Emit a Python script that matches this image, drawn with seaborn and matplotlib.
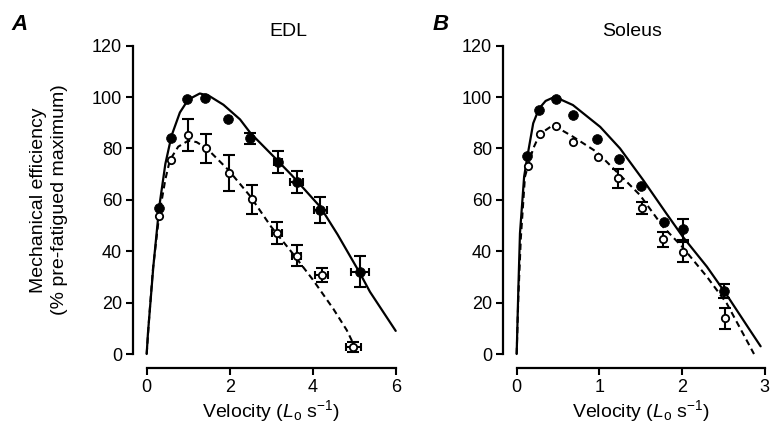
import numpy as np
import matplotlib
matplotlib.use('Agg')
import matplotlib.pyplot as plt
import seaborn as sns

# ---------------- data ----------------
# Panel A: EDL
A_fill_x = [0.30, 0.58, 0.98, 1.40, 1.97, 2.49, 3.16, 3.61, 4.18, 5.14]
A_fill_y = [56.7, 83.9, 99.1, 99.5, 91.3, 83.9, 74.8, 67.0, 56.0, 32.0]
A_fill_yerr = [0, 0, 0, 0, 0, 2.2, 4.3, 4.3, 5.1, 6.0]
A_fill_xerr = [0, 0, 0, 0, 0, 0, 0.10, 0.15, 0.16, 0.22]

A_open_x = [0.30, 0.59, 0.99, 1.42, 1.99, 2.53, 3.13, 3.61, 4.22, 4.98]
A_open_y = [53.7, 75.5, 85.2, 80.0, 70.5, 60.2, 47.2, 38.3, 30.7, 2.8]
A_open_yerr = [0, 0, 6.2, 5.6, 7.1, 5.6, 4.3, 4.1, 2.8, 2.0]
A_open_xerr = [0, 0, 0, 0, 0, 0, 0.12, 0.12, 0.16, 0.18]

A_solid_x = [0.0, 0.03, 0.08, 0.16, 0.30, 0.45, 0.60, 0.80, 1.00, 1.28, 1.50,
             1.85, 2.25, 2.50, 3.05, 3.50, 4.18, 4.60, 5.14, 5.38, 6.00]
A_solid_y = [0, 8, 18, 34, 57, 74, 85, 94, 99, 101.4, 100.5,
             97, 91.3, 86, 77, 69.5, 57.3, 46.5, 31.4, 24.2, 9]
A_dash_x = [0.0, 0.05, 0.15, 0.30, 0.45, 0.56, 0.76, 1.00, 1.20, 1.45, 1.97,
            2.49, 3.00, 3.50, 4.00, 4.50, 4.82, 5.10]
A_dash_y = [0, 12, 33, 54, 68, 75.5, 80.7, 83, 82.5, 80, 71.6,
            61.5, 49.5, 39.5, 29, 17.5, 9.3, 0]

# Panel B: Soleus
B_fill_x = [0.13, 0.27, 0.48, 0.68, 0.97, 1.24, 1.50, 1.78, 2.01, 2.51]
B_fill_y = [77.0, 94.9, 99.2, 93.0, 83.5, 75.8, 65.5, 51.5, 48.5, 24.5]
B_fill_yerr = [0, 0, 0, 0, 0, 0, 0, 0, 4.1, 2.8]
B_fill_xerr = [0, 0, 0, 0, 0, 0, 0, 0, 0, 0]

B_open_x = [0.14, 0.28, 0.48, 0.68, 0.98, 1.23, 1.51, 1.77, 2.01, 2.52]
B_open_y = [73.2, 85.6, 88.8, 82.4, 76.8, 68.4, 56.7, 44.6, 39.8, 13.9]
B_open_yerr = [0, 0, 0, 0, 0, 3.7, 2.3, 3.0, 3.9, 4.2]
B_open_xerr = [0, 0, 0, 0, 0, 0, 0, 0, 0, 0]

B_solid_x = [0.0, 0.02, 0.04, 0.09, 0.13, 0.20, 0.27, 0.35, 0.46, 0.68, 1.01,
             1.25, 1.53, 1.81, 2.01, 2.30, 2.54, 2.82, 2.95]
B_solid_y = [0, 25, 47, 69, 77, 89.8, 95.5, 98.5, 100.1, 96.9, 88.4,
             80, 67.7, 54.7, 45.6, 34, 23, 9.3, 3]
B_dash_x = [0.0, 0.02, 0.05, 0.10, 0.14, 0.20, 0.28, 0.44, 0.68, 0.97, 1.21,
            1.49, 1.77, 2.00, 2.30, 2.54, 2.80, 2.87]
B_dash_y = [0, 22, 45, 69, 73.5, 80, 85.6, 89.1, 84.6, 78.6, 70.9,
            61.9, 49.5, 41.8, 30.1, 19.7, 4.2, 0]

A_xticks = [0, 2, 4, 6]
B_xticks = [0, 1, 2, 3]
y_ticks = [0, 20, 40, 60, 80, 100, 120]

# ---------------- style ----------------
sns.set_style('ticks', rc={'axes.edgecolor': 'black', 'text.color': 'black',
                           'xtick.color': 'black', 'ytick.color': 'black',
                           'axes.labelcolor': 'black'})
plt.rcParams['font.family'] = ['Liberation Sans', 'DejaVu Sans']
plt.rcParams['mathtext.fontset'] = 'custom'
plt.rcParams['mathtext.rm'] = 'Liberation Sans'
plt.rcParams['mathtext.it'] = 'Liberation Sans:italic'
plt.rcParams['mathtext.bf'] = 'Liberation Sans:bold'

fig = plt.figure(figsize=(7.7, 4.29), dpi=100)
axA = fig.add_axes([0.1905, 0.1748, 0.3234, 0.7187])
axB = fig.add_axes([0.671, 0.1748, 0.3222, 0.7187])


def errbars(ax, x, y, yerr, xerr):
    x = np.asarray(x); y = np.asarray(y)
    yerr = np.asarray(yerr); xerr = np.asarray(xerr)
    m = yerr > 0
    if m.any():
        ax.errorbar(x[m], y[m], yerr=yerr[m], fmt='none', ecolor='black',
                    elinewidth=1.5, capsize=4, capthick=1.5, zorder=3, clip_on=False)
    m = xerr > 0
    if m.any():
        ax.errorbar(x[m], y[m], xerr=xerr[m], fmt='none', ecolor='black',
                    elinewidth=1.5, capsize=3, capthick=1.5, zorder=3, clip_on=False)


def panel(ax, sx, sy, dx, dy, fx, fy, fyerr, fxerr, ox, oy, oyerr, oxerr, xticks):
    sns.lineplot(x=sx, y=sy, ax=ax, color='black', lw=1.6, estimator=None,
                 sort=False, zorder=2, clip_on=False)
    sns.lineplot(x=dx, y=dy, ax=ax, color='black', lw=1.5, estimator=None,
                 sort=False, zorder=2, clip_on=False, linestyle=(0, (3, 2)))
    errbars(ax, fx, fy, fyerr, fxerr)
    errbars(ax, ox, oy, oyerr, oxerr)
    sns.scatterplot(x=fx, y=fy, ax=ax, color='black', s=50, edgecolor='black',
                    linewidth=0.5, zorder=4, clip_on=False)
    sns.scatterplot(x=ox, y=oy, ax=ax, color='white', s=28, edgecolor='black',
                    linewidth=1.3, zorder=5, clip_on=False)
    ax.set_xlim(xticks[0], xticks[-1])
    ax.set_ylim(0, 120)
    ax.set_xticks(xticks)
    ax.set_yticks(y_ticks)
    ax.tick_params(direction='out', length=5, width=1.5, labelsize=13, pad=3,
                   colors='black')
    for sp in ax.spines.values():
        sp.set_linewidth(1.6)
    sns.despine(ax=ax, offset={'left': 9.6, 'bottom': 10.3}, trim=True)
    ax.set_xlabel(r'Velocity ($\mathit{L}_{\mathrm{o}}$ s$^{-1}$)', fontsize=14,
                  va='baseline')
    ax.xaxis.set_label_coords(0.5, -0.206)


panel(axA, A_solid_x, A_solid_y, A_dash_x, A_dash_y,
      A_fill_x, A_fill_y, A_fill_yerr, A_fill_xerr,
      A_open_x, A_open_y, A_open_yerr, A_open_xerr, A_xticks)
panel(axB, B_solid_x, B_solid_y, B_dash_x, B_dash_y,
      B_fill_x, B_fill_y, B_fill_yerr, B_fill_xerr,
      B_open_x, B_open_y, B_open_yerr, B_open_xerr, B_xticks)

axA.set_ylabel('Mechanical efficiency\n(% pre-fatigued maximum)', fontsize=14,
               va='center', linespacing=1.25)
axA.yaxis.set_label_coords(-0.392, 0.5)
axB.set_ylabel('')

fig.text(288 / 770, 1 - 32 / 429, 'EDL', ha='center', va='center', fontsize=14)
fig.text(632 / 770, 1 - 32 / 429, 'Soleus', ha='center', va='center', fontsize=14)
fig.text(20 / 770, 1 - 25 / 429, 'A', ha='center', va='center', fontsize=16,
         fontweight='bold', fontstyle='italic')
fig.text(441 / 770, 1 - 25 / 429, 'B', ha='center', va='center', fontsize=16,
         fontweight='bold', fontstyle='italic')

fig.savefig('out.png', dpi=100)
